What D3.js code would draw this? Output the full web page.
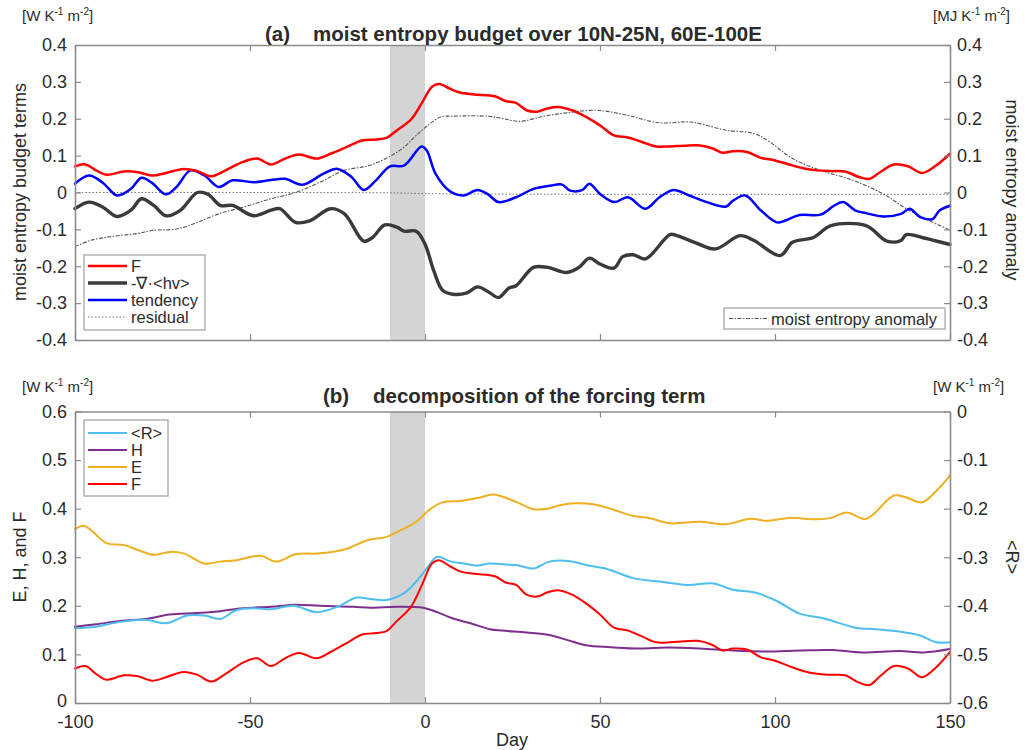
<!DOCTYPE html>
<html>
<head>
<meta charset="utf-8">
<script src="https://cdn.jsdelivr.net/npm/d3@7"></script>
<style>
  body { margin: 0; background: #fff; }
  svg text { font-family: "Liberation Sans", Arial, Helvetica, sans-serif; fill: #2b2b2b; }
</style>
</head>
<body>
<svg id="chart" width="1028" height="750"></svg>
<script>
// ---- composite evolution, day relative to onset ----
// panel (a): moist entropy budget terms [W K-1 m-2] and moist entropy anomaly [MJ K-1 m-2]
const forcing = [[-100,0.071],[-97,0.076],[-94,0.06],[-91,0.048],[-86,0.057],[-82,0.055],[-78,0.046],[-74,0.053],[-69,0.064],[-65,0.058],[-61,0.044],[-57,0.06],[-52,0.083],[-48,0.092],[-44,0.076],[-40,0.092],[-36,0.103],[-31,0.092],[-27,0.105],[-22,0.125],[-18,0.141],[-14,0.144],[-11,0.148],[-8,0.169],[-4,0.198],[-1,0.241],[2,0.287],[4,0.294],[7,0.282],[10,0.271],[14,0.266],[20,0.261],[23,0.248],[26,0.243],[29,0.223],[32,0.219],[35,0.228],[38,0.232],[42,0.223],[46,0.205],[50,0.182],[54,0.155],[58,0.149],[62,0.137],[66,0.125],[70,0.125],[74,0.127],[78,0.128],[82,0.12],[85,0.108],[88,0.112],[92,0.11],[96,0.094],[100,0.087],[104,0.076],[108,0.066],[112,0.06],[116,0.058],[120,0.057],[124,0.042],[127,0.037],[130,0.055],[134,0.076],[138,0.071],[142,0.053],[146,0.073],[150,0.105]];
const advection = [[-100,-0.044],[-96,-0.026],[-92,-0.04],[-88,-0.065],[-84,-0.048],[-81,-0.017],[-77.5,-0.035],[-74,-0.063],[-70,-0.049],[-65,0],[-62,-0.005],[-58.5,-0.035],[-55,-0.035],[-49,-0.063],[-44,-0.048],[-41.5,-0.044],[-37,-0.081],[-33,-0.077],[-27,-0.044],[-23,-0.058],[-17.5,-0.132],[-15,-0.122],[-11.5,-0.088],[-8,-0.094],[-6,-0.105],[-2.5,-0.105],[0,-0.14],[2.5,-0.212],[5,-0.265],[8,-0.276],[12,-0.272],[15,-0.256],[18.5,-0.272],[21,-0.285],[24,-0.259],[26,-0.253],[31,-0.203],[35,-0.203],[40.5,-0.217],[44,-0.203],[47,-0.178],[50,-0.194],[54,-0.205],[56.5,-0.174],[59.5,-0.169],[63,-0.18],[70,-0.114],[72,-0.117],[77,-0.135],[83,-0.153],[90,-0.117],[94,-0.13],[101.5,-0.171],[105,-0.135],[111,-0.122],[116,-0.09],[126,-0.09],[132,-0.132],[136,-0.13],[137.5,-0.114],[142,-0.122],[145,-0.129],[150,-0.141]];
const tendency = [[-100,0.024],[-96,0.046],[-92,0.026],[-88,-0.008],[-84,0.01],[-81,0.04],[-78,0.026],[-74,-0.005],[-71,0.015],[-67,0.06],[-63,0.046],[-59,0.015],[-55,0.033],[-49,0.028],[-44,0.034],[-40,0.037],[-35,0.021],[-29,0.051],[-25,0.064],[-21,0.042],[-17.5,0.007],[-14,0.033],[-10,0.071],[-6,0.073],[-1,0.125],[0.5,0.114],[3,0.051],[7,0.004],[11,-0.008],[15,0.007],[18,-0.005],[21,-0.026],[26,-0.013],[31,0.01],[36,0.019],[39,0.022],[41.5,0.005],[45,0.007],[47,0.024],[50,-0.004],[54,-0.026],[58,-0.013],[63,-0.044],[67,-0.013],[71,0.007],[75,-0.006],[80.5,-0.026],[86,-0.038],[88,-0.022],[91.5,-0.008],[96,-0.049],[100.5,-0.081],[103,-0.076],[107,-0.061],[113,-0.06],[117,-0.035],[119.5,-0.026],[123,-0.049],[126,-0.056],[131,-0.065],[136,-0.058],[138.5,-0.044],[141.5,-0.067],[145,-0.072],[147,-0.049],[150,-0.036]];
const residual = [[-100,0.0],[-50,0.0],[-10,-0.001],[0,-0.003],[50,-0.005],[100,-0.005],[150,-0.005]];
const anomaly = [[-100,-0.147],[-96,-0.131],[-90,-0.12],[-82,-0.111],[-78,-0.103],[-71,-0.099],[-65,-0.081],[-59,-0.058],[-52,-0.04],[-44,-0.017],[-37,0],[-30,0.028],[-23,0.06],[-16,0.073],[-10,0.098],[-6,0.123],[-2.5,0.155],[1.5,0.187],[4.5,0.205],[8,0.207],[18,0.207],[22,0.201],[27,0.193],[34,0.207],[40.5,0.216],[49,0.223],[57.5,0.21],[67,0.189],[76,0.191],[86,0.169],[94,0.16],[98.5,0.137],[105,0.092],[113,0.06],[122,0.034],[131,-0.004],[137.5,-0.044],[144,-0.076],[150,-0.102]];

// panel (b): decomposition of the forcing term [W K-1 m-2]
const radiation = [[-100,-0.446],[-94,-0.443],[-87,-0.433],[-79.5,-0.429],[-74,-0.436],[-68,-0.42],[-63,-0.42],[-58.5,-0.427],[-54,-0.409],[-49,-0.405],[-44,-0.407],[-37.5,-0.4],[-31,-0.413],[-25,-0.402],[-19.5,-0.383],[-15.5,-0.386],[-11,-0.388],[-6,-0.374],[-2.5,-0.35],[0.5,-0.323],[3.5,-0.299],[7,-0.308],[11,-0.313],[15,-0.317],[18.5,-0.313],[23,-0.315],[26,-0.316],[31,-0.323],[35.5,-0.309],[41.5,-0.308],[46,-0.316],[52,-0.324],[59.5,-0.343],[67,-0.35],[75,-0.357],[82.5,-0.354],[88,-0.367],[94,-0.372],[100.5,-0.39],[107,-0.416],[114,-0.426],[123,-0.445],[129,-0.448],[135.5,-0.453],[141.5,-0.461],[146,-0.475],[150,-0.475]];
const sensible = [[-100,0.157],[-94,0.162],[-87,0.169],[-79.5,0.173],[-73,0.182],[-65,0.185],[-58.5,0.189],[-52,0.195],[-44,0.198],[-37,0.202],[-30,0.2],[-20.5,0.198],[-15.5,0.196],[-8,0.198],[-0.5,0.196],[3.5,0.187],[8,0.174],[13,0.164],[18.5,0.152],[22,0.149],[29,0.145],[35.5,0.14],[40.5,0.13],[46,0.119],[53,0.115],[61.5,0.112],[69,0.114],[78.5,0.112],[88,0.108],[97.5,0.106],[107,0.108],[116.5,0.109],[125,0.104],[135.5,0.107],[142.5,0.104],[150,0.111]];
const evaporation = [[-100,0.358],[-97.5,0.365],[-95,0.353],[-91,0.329],[-86,0.325],[-82,0.315],[-77.5,0.305],[-73,0.311],[-69,0.308],[-63,0.287],[-58.5,0.291],[-54,0.294],[-47,0.303],[-42.5,0.291],[-37,0.306],[-30,0.308],[-22.5,0.317],[-16.5,0.335],[-11,0.342],[-6,0.359],[-2.5,0.373],[1.5,0.399],[5,0.413],[10,0.416],[15,0.422],[19.5,0.429],[22,0.425],[26,0.414],[31,0.399],[35,0.4],[38.5,0.407],[43,0.411],[48,0.409],[53,0.4],[59.5,0.385],[64,0.381],[70,0.37],[78.5,0.373],[86,0.368],[93,0.379],[97.5,0.375],[104,0.381],[112,0.378],[116,0.381],[120.5,0.392],[126,0.379],[134,0.427],[137.5,0.423],[142,0.413],[146,0.436],[150,0.468]];

// onset window
const onsetWindow = [-10, 0];

// tick labels
const dayTicks = [-100, -50, 0, 50, 100, 150];
const budgetTicks = [-0.4, -0.3, -0.2, -0.1, 0, 0.1, 0.2, 0.3, 0.4];
const forcingTicks = [0, 0.1, 0.2, 0.3, 0.4, 0.5, 0.6];
const radTicks = [-0.6, -0.5, -0.4, -0.3, -0.2, -0.1, 0];

// ---- drawing ----
const svg = d3.select('#chart');
const FONT = 18;
const AXIS_COLOR = '#8c8c8c';

const x = d3.scaleLinear().domain([-100, 150]).range([75, 950]);
const panelA = { top: 45, bottom: 340 };
const panelB = { top: 411.5, bottom: 703 };

const yA = d3.scaleLinear().domain([-0.4, 0.4]).range([panelA.bottom, panelA.top]);
const yAr = d3.scaleLinear().domain([-0.4, 0.4]).range([panelA.bottom, panelA.top]);
const yB = d3.scaleLinear().domain([0, 0.6]).range([panelB.bottom, panelB.top]);
const yBr = d3.scaleLinear().domain([-0.6, 0]).range([panelB.bottom, panelB.top]);

// plain hyphen-minus labels
const fmt = d => d === 0 ? '0' : String(+d.toFixed(2));

function band(p) {
  svg.append('rect')
    .attr('x', x(onsetWindow[0])).attr('y', p.top)
    .attr('width', x(onsetWindow[1]) - x(onsetWindow[0]))
    .attr('height', p.bottom - p.top)
    .attr('fill', '#d4d4d4');
}

function drawLine(data, y, color, width, dash) {
  const line = d3.line().x(d => x(d[0])).y(d => y(d[1])).curve(d3.curveCatmullRom.alpha(0.5));
  const path = svg.append('path')
    .datum(data)
    .attr('d', line)
    .attr('fill', 'none')
    .attr('stroke', color)
    .attr('stroke-width', width)
    .attr('stroke-linejoin', 'round')
    .attr('stroke-linecap', 'round');
  if (dash) path.attr('stroke-dasharray', dash).attr('stroke-linecap', 'butt');
}

function axes(p, yL, yR, tL, tR, showDays) {
  const g = svg.append('g');
  const left = d3.axisLeft(yL).tickValues(tL).tickFormat(fmt).tickSize(-6).tickSizeOuter(0).tickPadding(8);
  const right = d3.axisRight(yR).tickValues(tR).tickFormat(fmt).tickSize(-6).tickSizeOuter(0).tickPadding(7);
  const bottom = d3.axisBottom(x).tickValues(dayTicks).tickFormat(showDays ? fmt : () => '').tickSize(-6).tickSizeOuter(0).tickPadding(12);
  const top = d3.axisTop(x).tickValues(dayTicks).tickFormat(() => '').tickSize(-6).tickSizeOuter(0);

  const gl = g.append('g').attr('transform', `translate(${x.range()[0]},0)`).call(left);
  g.append('g').attr('transform', `translate(${x.range()[1]},0)`).call(right);
  g.append('g').attr('transform', `translate(0,${p.bottom})`).call(bottom);
  g.append('g').attr('transform', `translate(0,${p.top})`).call(top);

  g.selectAll('.domain').attr('stroke', AXIS_COLOR).attr('stroke-width', 1.6);
  g.selectAll('.tick line').attr('stroke', AXIS_COLOR).attr('stroke-width', 1.2);
  g.selectAll('.tick text').attr('font-size', FONT).attr('fill', '#2b2b2b')
    .attr('font-family', '"Liberation Sans", Arial, Helvetica, sans-serif');
  // lowest left label sits just above the day labels
  if (showDays) gl.selectAll('.tick text').filter(d => d === tL[0]).attr('dy', '0.2em');
}

function units(xPos, yPos, lead) {
  const t = svg.append('text').attr('x', xPos).attr('y', yPos).attr('font-size', 15);
  t.append('tspan').text(lead + ' K');
  t.append('tspan').attr('dy', -6).attr('font-size', 10).text('-1');
  t.append('tspan').attr('dy', 6).text(' m');
  t.append('tspan').attr('dy', -6).attr('font-size', 10).text('-2');
  t.append('tspan').attr('dy', 6).text(']');
}

function title(tag, txt, xTag, xTxt, yPos) {
  svg.append('text').attr('x', xTag).attr('y', yPos).attr('font-size', 20.5).attr('font-weight', 'bold').attr('fill', '#111').text(tag);
  svg.append('text').attr('x', xTxt).attr('y', yPos).attr('font-size', 20.5).attr('font-weight', 'bold').attr('fill', '#111').text(txt);
}

function vlabel(xPos, yPos, txt, rot) {
  svg.append('text')
    .attr('transform', `translate(${xPos},${yPos}) rotate(${rot})`)
    .attr('text-anchor', 'middle')
    .attr('font-size', 18)
    .text(txt);
}

function legend(x0, y0, w, h, items, fontSize) {
  const g = svg.append('g');
  g.append('rect').attr('x', x0).attr('y', y0).attr('width', w).attr('height', h)
    .attr('fill', '#fff').attr('stroke', '#a0a0a0').attr('stroke-width', 1.2);
  items.forEach(it => {
    const l = g.append('line').attr('x1', it.x1).attr('x2', it.x2).attr('y1', it.y).attr('y2', it.y)
      .attr('stroke', it.color).attr('stroke-width', it.width);
    if (it.dash) l.attr('stroke-dasharray', it.dash);
    g.append('text').attr('x', it.x2 + 4).attr('y', it.y + 6).attr('font-size', fontSize).text(it.label);
  });
}

// ---- panel (a) ----
band(panelA);
drawLine(residual, yA, '#707070', 1, '1.5,2');
drawLine(anomaly, yAr, '#555', 1.1, '4,1.5,1.5,1.5');
drawLine(advection, yA, '#3a3a3a', 3.4);
drawLine(tendency, yA, '#0000ff', 2.5);
drawLine(forcing, yA, '#ff0000', 2.5);
axes(panelA, yA, yAr, budgetTicks, budgetTicks, false);

legend(84, 255, 121, 75, [
  { label: 'F', color: '#ff0000', width: 2.5, y: 266, x1: 88, x2: 127 },
  { label: '-\u2207\u00b7<hv>', color: '#3a3a3a', width: 3.4, y: 283, x1: 88, x2: 127 },
  { label: 'tendency', color: '#0000ff', width: 2.5, y: 300, x1: 88, x2: 127 },
  { label: 'residual', color: '#707070', width: 1, y: 317, x1: 88, x2: 127, dash: '1.5,2' }
], 16.5);
legend(724, 308, 221, 21, [
  { label: 'moist entropy anomaly', color: '#555', width: 1.1, y: 318.5, x1: 729, x2: 767, dash: '4,1.5,1.5,1.5' }
], 16.5);

title('(a)', 'moist entropy budget over 10N-25N, 60E-100E', 265, 313, 41);
units(22, 21, '[W');
units(933, 21, '[MJ');
vlabel(26, 192, 'moist entropy budget terms', -90);
vlabel(1006, 190, 'moist entropy anomaly', 90);

// ---- panel (b) ----
band(panelB);
drawLine(evaporation, yB, '#edb120', 2);
drawLine(sensible, yB, '#7e2f8e', 2);
drawLine(radiation, yBr, '#4dbeee', 2);
drawLine(forcing, yB, '#ff0000', 2);
axes(panelB, yB, yBr, forcingTicks, radTicks, true);

legend(84, 420, 84, 76, [
  { label: '<R>', color: '#4dbeee', width: 2, y: 433, x1: 88, x2: 127 },
  { label: 'H', color: '#7e2f8e', width: 2, y: 450, x1: 88, x2: 127 },
  { label: 'E', color: '#edb120', width: 2, y: 467, x1: 88, x2: 127 },
  { label: 'F', color: '#ff0000', width: 2, y: 484, x1: 88, x2: 127 }
], 16.5);

title('(b)', 'decomposition of the forcing term', 323, 373, 403);
units(22, 392, '[W');
units(933, 392, '[W');
vlabel(26, 557, 'E, H, and F', -90);
vlabel(1006, 557, '<R>', 90);

svg.append('text').attr('x', 512).attr('y', 746).attr('text-anchor', 'middle').attr('font-size', 18).text('Day');
</script>
</body>
</html>
